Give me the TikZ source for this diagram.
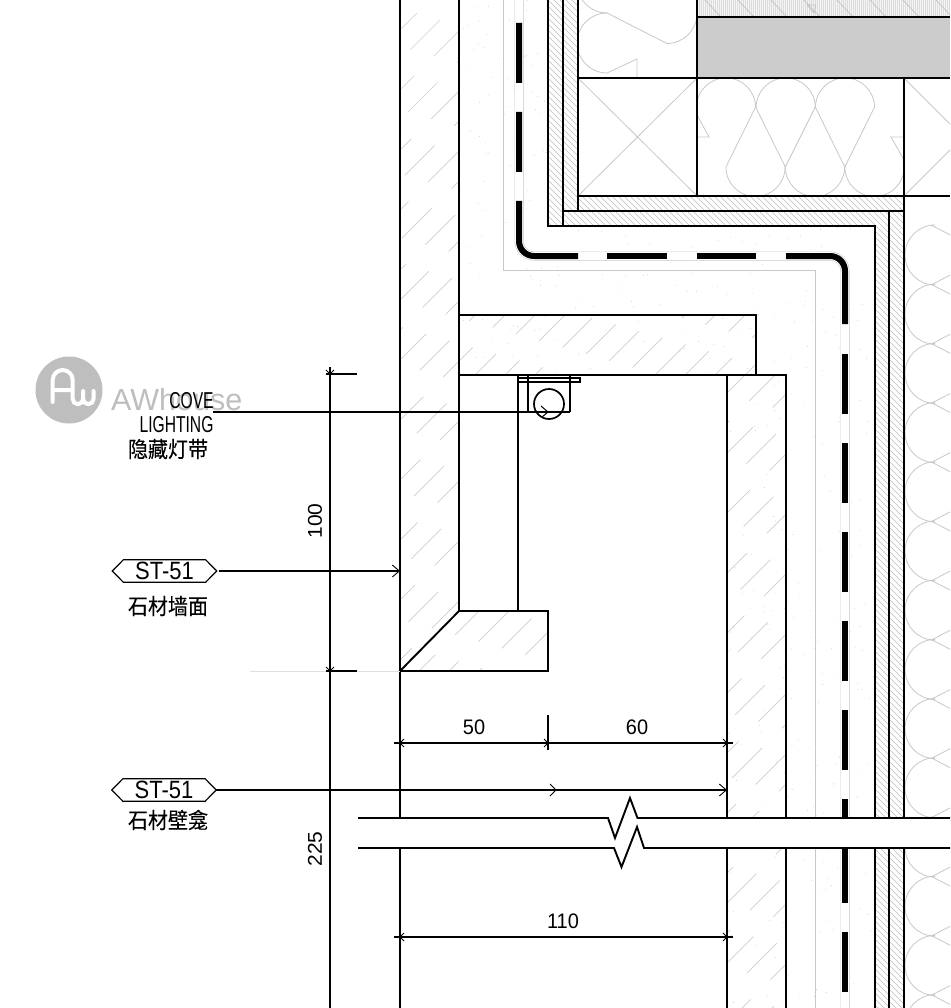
\documentclass[tikz,border=0pt]{standalone}
\usepackage{fontspec}
\setmainfont{Liberation Sans}
\newfontfamily\cjk[FakeBold=0.25]{Noto Sans CJK SC}
\usetikzlibrary{arrows.meta,calc}
\definecolor{lg}{HTML}{C8C8C8}
\definecolor{hg}{HTML}{BEBEBE}
\definecolor{sg}{HTML}{CFCFCF}
\tikzset{
 ln/.style={line width=1.9pt,black},
 thin gray/.style={line width=0.8pt,lg},
 hatchline/.style={line width=0.6pt,hg},
 stonehatch/.style={line width=0.7pt,sg},
 dimtext/.style={font=\fontsize{21}{21}\selectfont,inner sep=0pt,xscale=0.95},
 cntext/.style={font=\cjk\fontsize{20}{20}\selectfont,inner sep=0pt,yscale=1.1},
 covetext/.style={font=\fontsize{23}{23}\selectfont,inner sep=0pt,xscale=0.68},
 tagtext/.style={font=\fontsize{25}{25}\selectfont,inner sep=0pt,xscale=0.88},
 tagbox/.style={inner sep=0pt,minimum width=104pt,minimum height=22pt},
 leader/.style={line width=1.7pt,black},
 barb/.style={-{Straight Barb[length=7pt,width=12pt,line width=0.9pt]}},
}
\newcommand{\tagshape}[1]{\draw[line width=1.2pt] (#1.west) -- ($(#1.north west)+(11,0)$) -- ($(#1.north east)+(-11,0)$) -- (#1.east) -- ($(#1.south east)+(-11,0)$) -- ($(#1.south west)+(11,0)$) -- cycle;}
\newcommand{\tickat}[2]{\draw[line width=1pt] (#1-4,#2-4) -- (#1,#2) -- (#1-4,#2+4);}
\newcommand{\tickrev}[2]{\draw[line width=1pt] (#1+4,#2-4) -- (#1,#2) -- (#1+4,#2+4);}
\newcommand{\tickdown}[2]{\draw[line width=1pt] (#1-4,#2-4) -- (#1,#2) -- (#1+4,#2-4);}
\begin{document}
\begin{tikzpicture}[x=1pt,y=-1pt]
\useasboundingbox (0,0) rectangle (950,1008);
\fill[white] (0,0) rectangle (950,1008);
% watermark
\fill[hg] (69,390) circle (33.5);
\draw[white,line width=4pt,line cap=round,line join=round]
  (52.7,402) -- (52.7,380) arc[start angle=180,end angle=360,radius=10] -- (72.7,399)
  arc[start angle=180,end angle=0,radius=5.2] -- (83.1,391) (83.1,399)
  arc[start angle=180,end angle=0,radius=5.2] -- (93.5,391) (52.7,390) -- (72.7,390);
\node[anchor=west,inner sep=0pt,text=hg,font=\fontsize{30.5}{30.5}\selectfont] (wm) at (111,400) {AWhouse};
% stipple
\pgfmathsetseed{4242}
\foreach \i in {1,...,900}{
  \pgfmathsetmacro{\px}{459+rnd*416}
  \pgfmathsetmacro{\py}{rnd*1008}
  \pgfmathparse{(\px<548 || \py>226) && !(\py>375 && \px<726) ? 1:0}
  \ifnum\pgfmathresult=1 \fill[lg] (\px,\py) circle (0.45); \fi
}
% stone hatch
\begin{scope}
\clip (400,0) -- (459,0) -- (459,611) -- (548,611) -- (548,670) -- (400,670) -- cycle
  (459,315) -- (756,315) -- (756,375) -- (459,375) -- cycle
  (726,375) -- (786,375) -- (786,1008) -- (726,1008) -- cycle;
\foreach \c [count=\n] in {400,430,...,1800}{
  \pgfmathsetmacro{\ph}{mod(\n*37,70)}
  \draw[stonehatch,dash pattern=on 42pt off 28pt,dash phase=\ph pt] (390,\c-390) -- (800,\c-800);
}
\end{scope}
% fine diagonal hatch strips
\begin{scope}
\clip (548,0) -- (578,0) -- (578,196) -- (904,196) -- (904,1008) -- (875,1008) -- (875,226) -- (548,226) -- cycle;
\foreach \c in {-950,-944,...,150}{ \draw[hatchline,line width=0.55pt] (500,\c+500) -- (950,\c+950); }
\end{scope}
% top hatched band
\fill[black!4] (697,0) rectangle (950,16);
\begin{scope}
\clip (697,0) rectangle (950,16);
\foreach \x in {697,699,...,950}{ \draw[line width=0.3pt,black!14] (\x,0) -- (\x,16); }
\foreach \x in {670,703,...,950}{ \draw[line width=0.6pt,hg] (\x,-2) -- (\x+19,18); }
\draw[line width=0.6pt,hg] (807,5) -- (816,5) -- (814,13) -- cycle;
\end{scope}
% gray block
\fill[black!20] (697,18) rectangle (950,77);
% insulation X
\draw[thin gray] (578,78) -- (697,196) (697,78) -- (578,196);
\begin{scope}
\clip (904,78) rectangle (950,196);
\draw[thin gray] (904,78) -- (1022,196) (1022,78) -- (904,196);
\end{scope}
% batt horizontal
\foreach \cx in {726,785.7,845}{
  \draw[thin gray] (\cx-29.6,107.5) arc[start angle=180,end angle=360,radius=29.6];
}
\foreach \cx in {755.5,815,874.5}{
  \draw[thin gray] (\cx-29.6,167) arc[start angle=180,end angle=0,radius=29.6];
}
\draw[thin gray] (697,115) -- (709,137) -- (697,137);
\draw[thin gray] (725.9,167) -- (755.6,107) -- (785.3,167) -- (815.3,107) -- (844.8,167) -- (874.6,107);
\draw[thin gray] (904,160) -- (891,137) -- (904,137);
% batt top-left
\begin{scope}
\clip (578,0) rectangle (697,78);
\draw[thin gray] (607,13) arc[start angle=270,end angle=90,radius=30] -- (637,59) -- (637,78);
\draw[thin gray] (607,13) -- (667,43.5) arc[start angle=90,end angle=0,radius=30];
\draw[thin gray] (607,13) arc[start angle=90,end angle=150,radius=30];
\end{scope}
% batt right
\begin{scope}
\clip (904,196) rectangle (950,1008);
\foreach \k in {0,...,13}{
  \pgfmathsetmacro{\yy}{255+59.2*\k}
  \draw[thin gray] (935,\yy-30) arc[start angle=270,end angle=90,radius=30];
  \draw[thin gray] (931,\yy-30) -- (960,\yy-15) (931,\yy+30) -- (960,\yy+15);
}
\end{scope}
% gray layer lines
\draw[thin gray] (503.5,0) -- (503.5,270) -- (815,270) -- (815,1008);
% membrane
\draw[line width=9pt,lg] (519,0) -- (519,241) arc[start angle=180,end angle=90,radius=15] -- (830,256) arc[start angle=270,end angle=360,radius=15] -- (845,1008);
\draw[line width=7.8pt,white] (519,0) -- (519,241) arc[start angle=180,end angle=90,radius=15] -- (830,256) arc[start angle=270,end angle=360,radius=15] -- (845,1008);
\fill[black] (516,23) rectangle (522,83) (516,112) rectangle (522,172);
\draw[line width=6pt] (519,201) -- (519,241) arc[start angle=180,end angle=90,radius=15] -- (578,256);
\draw[line width=6pt] (607,256) -- (667,256) (697,256) -- (756,256);
\draw[line width=6pt] (786,256) -- (830,256) arc[start angle=270,end angle=360,radius=15] -- (845,324);
\foreach \a/\b in {354/414,443/503,532/592,621/681,710/770,799/830,848/903,932/992}{
  \draw[line width=6pt] (845,\a) -- (845,\b);
}
% fixed top elements
\draw[ln,line width=2.2pt] (697,0) -- (697,78);
\draw[ln,line width=2.2pt] (697,17) -- (950,17);
\draw[ln] (578,78) -- (950,78);
\draw[ln] (578,0) -- (578,211);
\draw[ln] (578,196) -- (950,196);
\draw[ln] (697,78) -- (697,196);
\draw[ln] (904,78) -- (904,1008);
\draw[ln] (563,0) -- (563,226) (548,0) -- (548,226) -- (875,226) -- (875,1008);
\draw[ln] (563,211) -- (904,211);
\draw[ln] (889,211) -- (889,1008);
% stone outlines
\draw[ln] (400,0) -- (400,1008);
\draw[ln] (459,0) -- (459,611) -- (548,611) -- (548,671) -- (400,671) -- (459,611);
\draw[ln] (459,315) -- (756,315) -- (756,375);
\draw[ln] (459,375) -- (786,375) -- (786,1008);
\draw[ln] (727,375) -- (727,1008);
\draw[ln] (518,375) -- (518,611);
% light fixture
\draw[leader] (528,375) -- (528,412) (570,375) -- (570,412);
\draw[leader] (518,378) rectangle (580,382);
\node[circle,draw,line width=1.7pt,minimum size=30pt,inner sep=0pt] (lamp) at (549,404) {};
% break band
\fill[white] (358,818) -- (608,818) -- (615,838) -- (630,798) -- (637.5,818) -- (950,818) -- (950,848) -- (644,848) -- (637,827) -- (621.5,867) -- (614,848) -- (358,848) -- cycle;
\draw[ln] (358,818) -- (608,818) -- (615,838) -- (630,798) -- (637.5,818) -- (950,818);
\draw[ln] (358,848) -- (614,848) -- (621.5,867) -- (637,827) -- (644,848) -- (950,848);
% dimensions
\coordinate (d100a) at (330,367);
\coordinate (d100b) at (330,1008);
\draw[leader] (d100a) -- (d100b);
\draw[line width=0.8pt,black!12] (250,671) -- (326,671) (357,671) -- (400,671);
\draw[leader] (326,374) -- (357,374) (326,671) -- (357,671);
\tickdown{330}{374}\tickdown{330}{671}
\node[dimtext,rotate=90] (t100) at (315,521) {100};
\node[dimtext,rotate=90] (t225) at (315,849) {225};
\draw[leader] (394,743) -- (733,743);
\draw[leader] (548,715) -- (548,750);
\tickrev{400}{743}\tickat{548}{743}\tickat{727}{743}
\node[dimtext] (t50) at (474,727) {50};
\node[dimtext] (t60) at (637,727) {60};
\draw[leader] (394,937) -- (733,937);
\tickrev{400}{937}\tickat{727}{937}
\node[dimtext] (t110) at (563,921) {110};
% labels
\node[covetext] (cove) at (191.5,401) {COVE};
\node[covetext] (light) at (176.5,425) {LIGHTING};
\node[cntext] (cn1) at (168,449) {隐藏灯带};
\node[tagbox] (st1) at (164.5,571) {};
\node[tagtext] (st1t) at (st1.center) {ST-51};
\tagshape{st1}
\node[cntext] (cn2) at (168,606) {石材墙面};
\node[tagbox] (st2) at (164,790) {};
\node[tagtext] (st2t) at (st2.center) {ST-51};
\tagshape{st2}
\node[cntext] (cn3) at (168,820) {石材壁龛};
% leaders
\coordinate (a1) at (548,412);
\coordinate (a2) at (400,571);
\coordinate (a3) at (727,790);
\coordinate (a4) at (556,790);
\coordinate (s1) at (219,571);
\draw[leader] (213,412) -- (570,412);
\draw[line width=1pt] (541,406) -- (a1) -- (542,417);
\draw[leader,barb] (s1) -- (a2);
\draw[leader,barb] (st2.east) -- (a3);
\draw[line width=0.9pt] ($(a4)+(-6,-6)$) -- (a4) -- ($(a4)+(-6,6)$);
\end{tikzpicture}
\end{document}
